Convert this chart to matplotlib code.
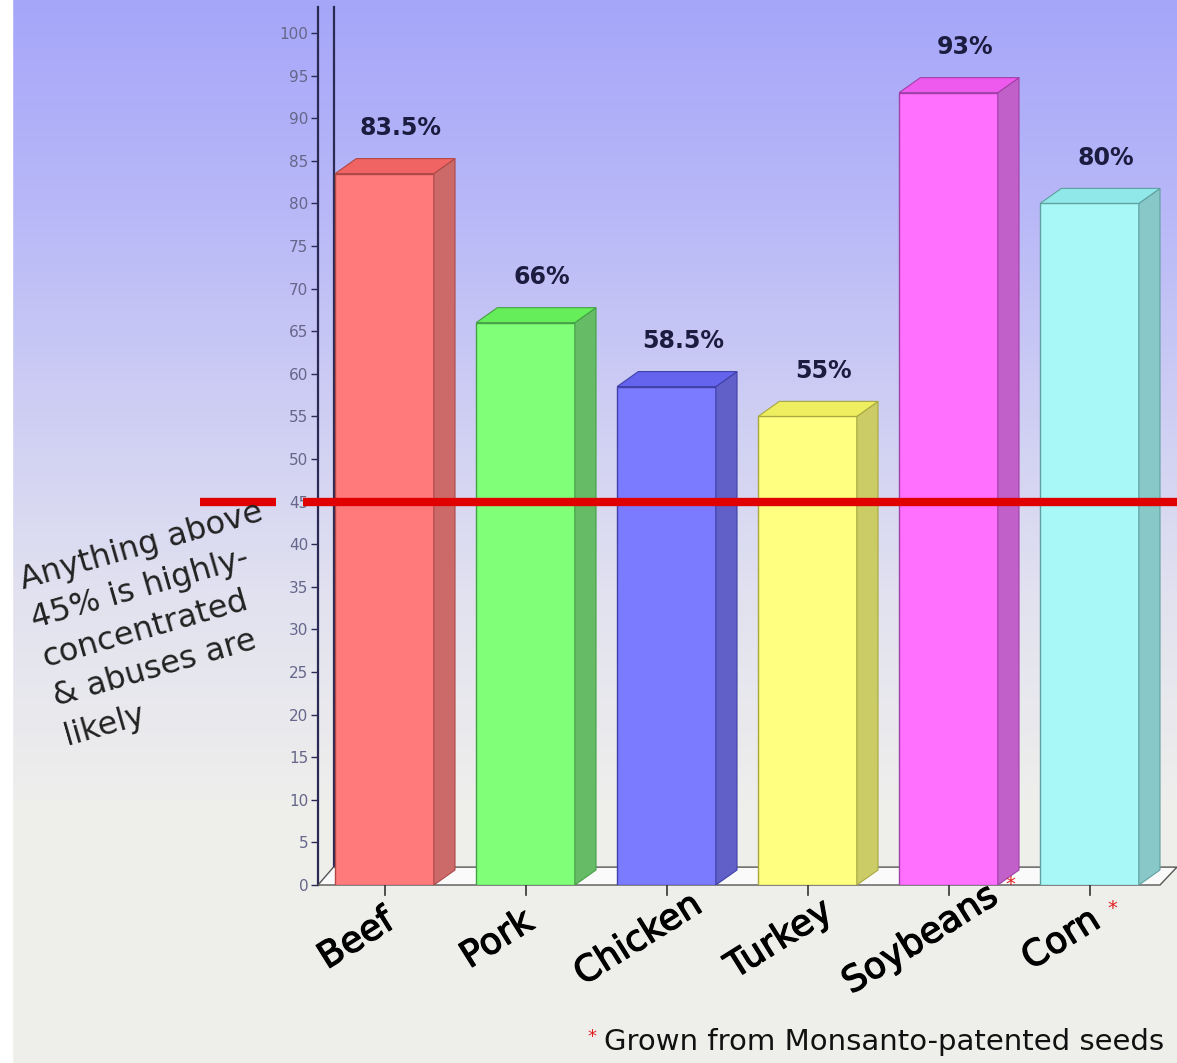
import numpy as np
import matplotlib.pyplot as plt
import matplotlib.patheffects as pe
from matplotlib.patches import Polygon

# data
categories = ["Beef", "Pork", "Chicken", "Turkey", "Soybeans", "Corn"]
values = [83.5, 66, 58.5, 55, 93, 80]
value_labels = ["83.5%", "66%", "58.5%", "55%", "93%", "80%"]
starred = [False, False, False, False, True, True]
threshold = 45
yticks = list(range(0, 101, 5))

front_colors = ["#ff7b7b", "#80ff78", "#7b7bff", "#ffff80", "#ff70ff", "#a8f8f8"]
side_colors = ["#cc6a6a", "#66bb66", "#6060c8", "#cccc66", "#c060c8", "#88c8c8"]
top_colors = ["#f06464", "#66ee5a", "#6464ee", "#eeee60", "#ee5aee", "#90e8e8"]
edge_colors = ["#b04848", "#44a044", "#4040a8", "#a8a840", "#a040a8", "#60a0a0"]

W, H = 1177, 1063
fig = plt.figure(figsize=(W / 100, H / 100), dpi=100)

# background gradient (lavender at the top fading to light grey)
bg = fig.add_axes([0, 0, 1, 1])
stops_y = np.array([0, 200, 400, 600, 800, 1063]) / H
stops_c = np.array([[166, 166, 250], [183, 183, 248], [205, 205, 244],
                    [226, 226, 240], [238, 238, 236], [239, 239, 234]]) / 255
yy = np.linspace(0, 1, 400)
grad = np.stack([np.interp(yy, stops_y, stops_c[:, k]) for k in range(3)], axis=-1)
grad = np.repeat(grad[:, None, :], 2, axis=1)
bg.imshow(grad, extent=[0, 1, 0, 1], aspect="auto", origin="upper")
bg.axvspan(0, 12 / W, color="white")
bg.set_xlim(0, 1)
bg.set_ylim(0, 1)
bg.axis("off")

# main axes: x in category index, y in percent
step = 141.0
x0_px = 384.5
ax = fig.add_axes([318 / W, (H - 885) / H, (W - 318) / W, 852 / H])
ax.set_xlim((318 - x0_px) / step, (W - x0_px) / step)
ax.set_ylim(0, 100)
ax.patch.set_visible(False)
for s in ax.spines.values():
    s.set_visible(False)

xl = ax.get_xlim()[0]
xr = (1160 - x0_px) / step

# axis lines
ax.plot([xl, xl], [0, 103], color="#2a2a55", lw=1.6, clip_on=False, zorder=1)
ax.plot([xl + 0.11, xl + 0.11], [2.1, 103], color="#2a2a55", lw=1.6,
        clip_on=False, zorder=1)

# floor
floor = Polygon([(xl, 0), (xr, 0), (xr + 0.12, 2.1), (xl + 0.11, 2.1)],
                closed=True, facecolor="#fafafa", edgecolor="#555555",
                lw=1.0, zorder=2, clip_on=False)
ax.add_patch(floor)

ax.set_yticks(yticks)
ax.set_yticklabels([str(t) for t in yticks])
ax.tick_params(axis="y", direction="out", length=5, width=1, color="#2a2a55",
               labelsize=11, labelcolor="#66668a", pad=2)
ax.set_xticks([])

# 3d bars
w = 0.70
dx, dy = 0.15, 1.76
xs = np.arange(len(categories))
ax.bar(xs, values, width=w, color=front_colors, edgecolor=edge_colors,
       linewidth=1.0, zorder=3)
for i, v in enumerate(values):
    x = xs[i]
    side = Polygon([(x + w / 2, 0), (x + w / 2 + dx, dy), (x + w / 2 + dx, v + dy), (x + w / 2, v)],
                   closed=True, facecolor=side_colors[i], edgecolor=edge_colors[i], lw=0.8, zorder=3)
    top = Polygon([(x - w / 2, v), (x + w / 2, v), (x + w / 2 + dx, v + dy), (x - w / 2 + dx, v + dy)],
                  closed=True, facecolor=top_colors[i], edgecolor=edge_colors[i], lw=0.8, zorder=3)
    ax.add_patch(side)
    ax.add_patch(top)
    ax.text(x + dx / 2 + 0.04, v + dy + 2.2, value_labels[i], ha="center", va="bottom",
            fontsize=17, fontweight="bold", color="#1c1c40", zorder=5, clip_on=False)
    # x tick mark
    ax.plot([x, x], [0, -1.2], color="#333333", lw=1.2, clip_on=False, zorder=2)

# threshold line (broken around the "45" tick label)
ax.plot([(200 - x0_px) / step, (276 - x0_px) / step], [threshold, threshold],
        color="#e00000", lw=6, solid_capstyle="butt", clip_on=False, zorder=4)
ax.plot([(303 - x0_px) / step, ax.get_xlim()[1]], [threshold, threshold],
        color="#e00000", lw=6, solid_capstyle="butt", clip_on=False, zorder=4)

# category labels
rot = 32
for i, name in enumerate(categories):
    lab = ax.text(xs[i] - 0.2, -6.4, name, rotation=rot, rotation_mode="anchor",
                  ha="center", va="center", fontsize=26, color="black", clip_on=False,
                  zorder=5, path_effects=[pe.withStroke(linewidth=0.9, foreground="black")])
    if starred[i]:
        ax.annotate("*", xy=(1, 1), xycoords=lab, xytext=(1, -4),
                    textcoords="offset points", ha="left", va="center",
                    fontsize=14, color="#e02020", annotation_clip=False, zorder=6)

# annotation on the left
fig.text(16 / W, 1 - 566 / H, "Anything above\n45% is highly-\nconcentrated\n& abuses are\nlikely",
         rotation=16, rotation_mode="anchor", ha="left", va="top", multialignment="left",
         linespacing=1.4, fontsize=23, color="#222222")

# footnote
fig.text(587 / W, 1 - 1042 / H, "*", fontsize=13, color="#e02020", ha="left", va="baseline")
fig.text(604 / W, 1 - 1050 / H, "Grown from Monsanto-patented seeds", fontsize=21,
         color="#111111", ha="left", va="baseline")

fig.savefig("out.png", dpi=100)
